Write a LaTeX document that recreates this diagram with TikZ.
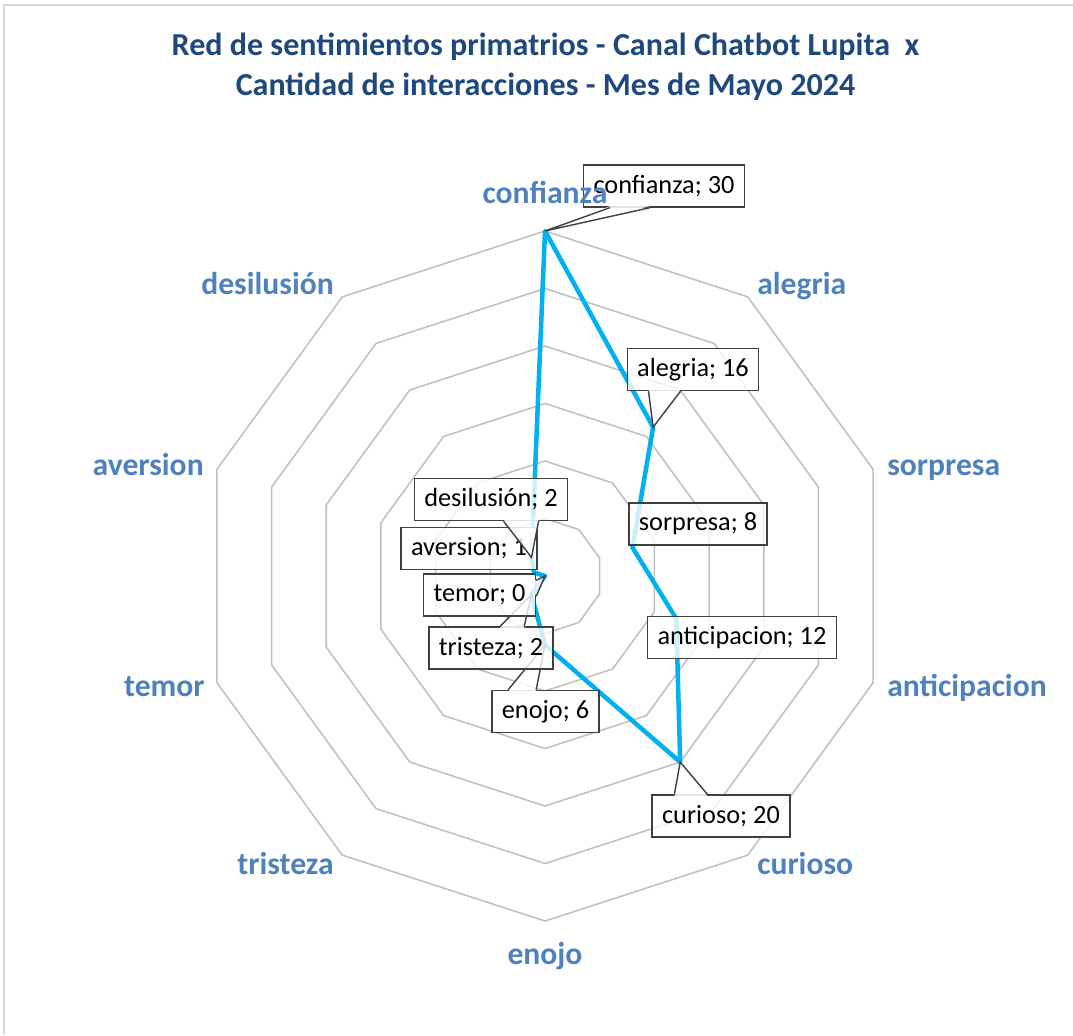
\documentclass[tikz,border=0pt]{standalone}
\usepackage{fontspec}
\setmainfont{Carlito}
\usetikzlibrary{calc}
\definecolor{titleblue}{RGB}{31,73,125}
\definecolor{axisblue}{RGB}{79,129,189}
\definecolor{ringgray}{RGB}{191,191,191}
\definecolor{serieblue}{RGB}{0,176,240}
\definecolor{boxgray}{RGB}{64,64,64}
\definecolor{framegray}{RGB}{217,217,217}
\tikzset{
  titulo/.style={text=titleblue, align=center, font=\fontsize{22.8}{28.5}\selectfont\bfseries},
  ring/.style={draw=ringgray, line width=1.1pt},
  serie/.style={draw=serieblue, line width=3.2pt, line join=round},
  axislabel/.style={text=axisblue, inner sep=0pt, font=\fontsize{22.5}{26}\selectfont\bfseries},
  datalabel/.style={draw=boxgray, line width=1pt, fill=white, fill opacity=.8, text opacity=1,
    inner xsep=0.25cm, minimum height=1.05cm, font=\fontsize{18.7}{22}\selectfont},
  calloutline/.style={draw=boxgray, line width=1pt}
}
% wedge from a label box to its point: corner, two offsets, inset, point
\newcommand{\llamada}[5]{%
  \fill[white, fill opacity=.85] ($(#1)+#2+#4$) -- (#5) -- ($(#1)+#3+#4$) -- cycle;
  \draw[calloutline] ($(#1)+#2$) -- (#5) -- ($(#1)+#3$);}

\begin{document}
\begin{tikzpicture}[x=0.025cm,y=-0.025cm]
  \useasboundingbox (0,0) rectangle (1073,1035);
  \draw[framegray, line width=1pt] (4,1035) -- (4,5) -- (1073,5);
  \node[titulo] (titulo) at (545.5,67) {Red de sentimientos primatrios - Canal Chatbot Lupita\ \ x\\Cantidad de interacciones - Mes de Mayo 2024};

  % rings every 5
  \foreach \k in {1,...,6}
    \draw[ring] (545,{576-57.5*\k}) \foreach \a in {36,72,...,324} { -- ({545+57.5*\k*sin(\a)},{576-57.5*\k*cos(\a)}) } -- cycle;

  % values
  \foreach \v [count=\i from 0] in {30,16,8,12,20,6,2,0,1,2}
    \coordinate (p\i) at ({545+11.5*\v*sin(36*\i)},{576-11.5*\v*cos(36*\i)});
  \draw[serie] (p0) -- (p1) -- (p2) -- (p3) -- (p4) -- (p5) -- (p6) -- (p7) -- (p8) -- (p9) -- cycle;

  % data labels
  \node[datalabel] (lconf) at (664,186) {confianza; 30};
  \llamada{lconf.south west}{(27,0)}{(67,0)}{(0,-1.5)}{p0}
  \node[datalabel] (lale) at (693,369.5) {alegria; 16};
  \llamada{lale.south west}{(22,0)}{(54,0)}{(0,-1.5)}{p1}
  \node[datalabel] (lsor) at (698,524) {sorpresa; 8};
  \node[datalabel] (lant) at (742,637.5) {anticipacion; 12};
  \node[datalabel] (lcur) at (721,816) {curioso; 20};
  \llamada{lcur.north west}{(23,0)}{(56,0)}{(0,1.5)}{p4}
  \node[datalabel] (lenj) at (545.5,711.5) {enojo; 6};
  \llamada{lenj.north west}{(17,0)}{(45,0)}{(0,1.5)}{p5}
  \node[datalabel] (ltri) at (491,648) {tristeza; 2};
  \llamada{ltri.north west}{(72,0)}{(96,0)}{(0,1.5)}{p6}
  \node[datalabel] (ltem) at (479.5,595) {temor; 0};
  \llamada{ltem.north east}{(0,7)}{(0,23)}{(-1.5,0)}{p7}
  \node[datalabel] (lave) at (469,548.5) {aversion; 1};
  \node[datalabel] (ldes) at (491,499.5) {desilusión; 2};
  \llamada{ldes.south west}{(90,0)}{(125,0)}{(0,-1.5)}{p9}

  % axis names
  \node[axislabel, anchor=base] (ax0) at (545,203) {confianza};
  \node[axislabel, anchor=base west] (ax1) at (757,294) {alegria};
  \node[axislabel, anchor=base west] (ax2) at (887,475) {sorpresa};
  \node[axislabel, anchor=base west] (ax3) at (887,696) {anticipacion};
  \node[axislabel, anchor=base west] (ax4) at (757,874) {curioso};
  \node[axislabel, anchor=base] (ax5) at (545,964) {enojo};
  \node[axislabel, anchor=base east] (ax6) at (334,874) {tristeza};
  \node[axislabel, anchor=base east] (ax7) at (205,696) {temor};
  \node[axislabel, anchor=base east] (ax8) at (204,475) {aversion};
  \node[axislabel, anchor=base east] (ax9) at (334,294) {desilusión};
\end{tikzpicture}
\end{document}
